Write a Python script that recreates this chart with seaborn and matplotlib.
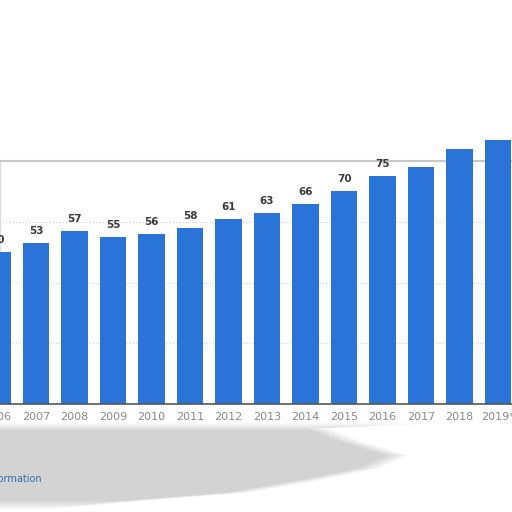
import matplotlib
matplotlib.use("Agg")
import matplotlib.pyplot as plt
import seaborn as sns
import pandas as pd
import numpy as np

years = ["2006", "2007", "2008", "2009", "2010", "2011", "2012", "2013",
         "2014", "2015", "2016", "2017", "2018", "2019*"]
values = [50, 53, 57, 55, 56, 58, 61, 63, 66, 70, 75, 78, 84, 87]
shown_labels = [True] * 11 + [False] * 3
y_ticks = [0, 20, 40, 60, 80]

df = pd.DataFrame({"year": years, "value": values})

sns.set_theme(style="white")
plt.rcParams["font.family"] = ["DejaVu Sans"]

fig = plt.figure(figsize=(5.12, 5.12), dpi=100)
fig.patch.set_facecolor("white")

# soft grey shadow beneath the chart (decorative)
H = W = 512
yy, xx = np.mgrid[0:H, 0:W].astype(float)
ys = np.array([420, 428, 440, 455, 468, 480, 492, 500, 508])
xr = np.array([512, 330, 360, 410, 380, 320, 250, 150, 60])
right = np.interp(yy, ys, xr, left=-100, right=-100)
alpha = np.clip((right - xx) / 25.0, 0, 1)
alpha *= np.clip((yy - 422) / 8.0, 0, 1) * np.clip((510 - yy) / 10.0, 0, 1)
img = np.zeros((H, W, 4))
img[..., :3] = 0.80
img[..., 3] = alpha * 0.85
fig.figimage(img, xo=0, yo=0, origin="upper", zorder=-1)

ax = fig.add_axes([-20.5 / 512, 0.2109, (512 + 20.5) / 512, 0.4746])
ax.set_facecolor("white")

sns.barplot(data=df, x="year", y="value", color="#2a73d9", saturation=1,
            width=0.69, ax=ax, zorder=3, edgecolor="none", linewidth=0)
for p in ax.patches:
    p.set_clip_on(False)

ax.set_xlim(-0.4675, 13.36)
ax.set_ylim(0, 80)
ax.set_yticks(y_ticks)
ax.yaxis.grid(True, linestyle=(0, (1, 2)), color="#cfcfcf", linewidth=0.8)
ax.set_axisbelow(True)
ax.set_xlabel("")
ax.set_ylabel("")
ax.set_yticklabels([])
ax.tick_params(axis="y", length=0)
ax.tick_params(axis="x", length=0, labelsize=8, colors="#888888", pad=6)

ax.spines["right"].set_visible(False)
ax.spines["left"].set_visible(False)
ax.spines["top"].set_color("#c8c8c8")
ax.spines["top"].set_linewidth(1.5)
ax.spines["bottom"].set_color("#555555")
ax.spines["bottom"].set_linewidth(1.2)
ax.spines["bottom"].set_zorder(5)
ax.axvline(20.5 / 38.5 - 0.4675 + 0.0, color="#dddddd", linewidth=1, zorder=1)

for p, v, show in zip(ax.patches, values, shown_labels):
    if show:
        ax.annotate(f"{v}", (p.get_x() + p.get_width() / 2, p.get_height()),
                    xytext=(0, 5), textcoords="offset points", ha="center",
                    va="bottom", fontsize=7.5, fontweight="bold",
                    color="#3a3a3a", annotation_clip=False)

fig.text(42 / 512, 1 - 479 / 512, "Additional Information", ha="right",
         va="center", fontsize=7, color="#2f6fa8")

fig.savefig("out.png", dpi=100)
